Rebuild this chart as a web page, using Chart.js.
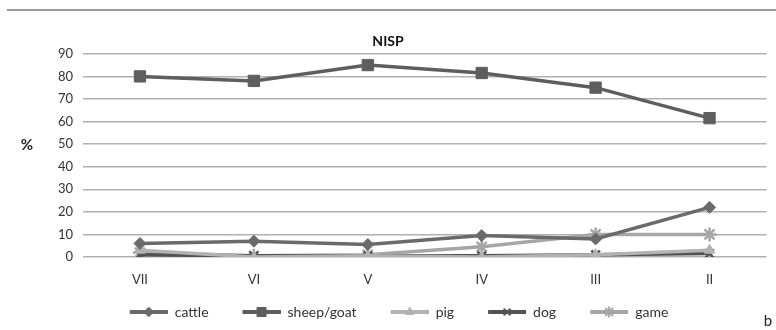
<!DOCTYPE html>
<html>
<head>
<meta charset="utf-8">
<script src="https://cdn.jsdelivr.net/npm/chart.js@4.4.1/dist/chart.umd.min.js"></script>
<style>
  html, body { margin: 0; padding: 0; background: #fff; }
  #wrap { position: relative; width: 776px; height: 330px; }
  #rule { position: absolute; left: 7px; right: 0; top: 9px; height: 0; border-top: 2px solid #9a9a9a; }
</style>
</head>
<body>
<div id="wrap">
  <div id="rule"></div>
  <canvas id="chart" width="776" height="330"></canvas>
</div>
<script>
// phases, oldest to youngest as printed
var phases = ["VII", "VI", "V", "IV", "III", "II"];
var yTicks = [0, 10, 20, 30, 40, 50, 60, 70, 80, 90];

// NISP percentages
var cattle = [6, 7, 5.5, 9.5, 8, 22];
var sheepGoat = [80, 78, 85, 81.5, 75, 61.5];
var pig = [3, 0, 0.5, 0, 1, 3];
var dog = [1, 0.5, 0.5, 0.5, 1, 1.5];
var game = [2, 0.5, 1, 4.5, 10, 10];

// legend swatch: line with the marker on it, blank space on the left to spread items
function legendIcon(color, style, radius) {
    var c = document.createElement("canvas");
    c.width = 60;
    c.height = 16;
    var ctx = c.getContext("2d");
    ctx.strokeStyle = color;
    ctx.lineWidth = 4;
    ctx.beginPath();
    ctx.moveTo(22, 8);
    ctx.lineTo(60, 8);
    ctx.stroke();
    ctx.fillStyle = color;
    ctx.lineWidth = style === "crossRot" || style === "star" ? 2 : 1;
    Chart.helpers.drawPoint(ctx, { pointStyle: style, radius: radius, borderWidth: ctx.lineWidth }, 41, 8);
    return c;
}

function series(label, data, color, style, radius) {
    var thin = style === "crossRot" || style === "star";
    return {
        label: label,
        data: data,
        borderColor: color,
        backgroundColor: color,
        borderWidth: 3.5,
        pointStyle: style,
        pointRadius: radius,
        pointBorderWidth: thin ? 2.5 : 1,
        pointBorderColor: color,
        pointBackgroundColor: color,
        tension: 0,
        legendIcon: legendIcon(color, style, radius * 0.8),
    };
}

var extraText = {
    id: "extraText",
    afterDraw(chart) {
        var ctx = chart.ctx;
        var area = chart.chartArea;
        ctx.save();
        ctx.fillStyle = "#222";
        ctx.font = "bold 15px Lato";
        ctx.textAlign = "center";
        ctx.textBaseline = "middle";
        ctx.fillText("%", 27, (area.top + area.bottom) / 2 - 10);
        ctx.font = "15px Lato";
        ctx.fillText("b", chart.width - 8, chart.height - 9);
        ctx.restore();
    },
};

new Chart(document.getElementById("chart"), {
    type: "line",
    data: {
        labels: phases,
        datasets: [
            series("cattle", cattle, "#6a6a6a", "rectRot", 6),
            series("sheep/goat", sheepGoat, "#5e5e5e", "rect", 8),
            series("pig", pig, "#b2b2b2", "triangle", 6),
            series("dog", dog, "#525252", "crossRot", 6),
            series("game", game, "#a6a6a6", "star", 7),
        ],
    },
    options: {
        responsive: false,
        animation: false,
        layout: { padding: { top: 33, left: 9, right: 9, bottom: 1 } },
        plugins: {
            title: {
                display: true,
                text: "NISP",
                color: "#111",
                font: { family: "Lato", size: 14, weight: "bold" },
                padding: { top: 0, bottom: 4 },
            },
            legend: {
                position: "bottom",
                labels: {
                    usePointStyle: true,
                    pointStyleWidth: 60,
                    color: "#333",
                    font: { family: "Lato", size: 14 },
                    padding: 12,
                    generateLabels(chart) {
                        return chart.data.datasets.map((ds, i) => ({
                            text: ds.label,
                            pointStyle: ds.legendIcon,
                            fillStyle: ds.borderColor,
                            strokeStyle: ds.borderColor,
                            lineWidth: 0,
                            datasetIndex: i,
                            fontColor: "#333",
                        }));
                    },
                },
            },
            tooltip: { enabled: false },
        },
        scales: {
            x: {
                offset: true,
                grid: { display: false },
                border: { display: false },
                afterFit(scale) { scale.height = 36; },
                ticks: { color: "#333", font: { family: "Lato", size: 13 }, padding: 7 },
            },
            y: {
                min: 0,
                max: 90,
                afterFit(scale) { scale.width = 74; },
                afterBuildTicks(scale) { scale.ticks = yTicks.map((v) => ({ value: v })); },
                grid: { color: "#b0b0b0", lineWidth: 1.5, drawTicks: false },
                border: { display: false },
                ticks: { color: "#333", font: { family: "Lato", size: 13 }, padding: 10 },
            },
        },
    },
    plugins: [extraText],
});
</script>
</body>
</html>
